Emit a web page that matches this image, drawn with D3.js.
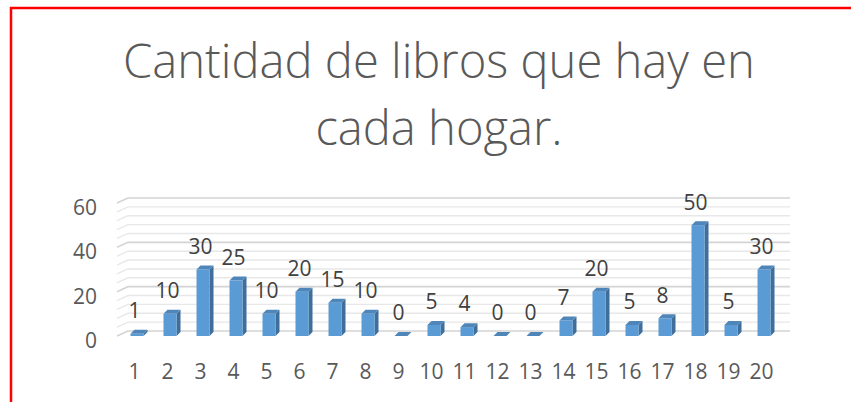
<!DOCTYPE html>
<html>
<head>
<meta charset="utf-8">
<script src="https://cdn.jsdelivr.net/npm/d3@7"></script>
<style>
  html, body { margin: 0; padding: 0; background: #fff; }
  svg { display: block; }
  text { font-variant-ligatures: none; }
</style>
</head>
<body>
<svg id="chart" width="851" height="402"></svg>
<script>
// Data
const categories = d3.range(1, 21).map(String);
const values = [1, 10, 30, 25, 10, 20, 15, 10, 0, 5, 4, 0, 0, 7, 20, 5, 8, 50, 5, 30];
const yTicks = [0, 20, 40, 60];
const minorStep = 4;
const titleLines = ['Cantidad de libros que hay en', 'cada hogar.'];

const svg = d3.select('#chart');
const font = '"Open Sans", Lato, sans-serif';
const labelSize = 21;

// red frame (left and top only visible)
svg.append('path')
  .attr('d', 'M11,402 V8 H851')
  .attr('fill', 'none')
  .attr('stroke', '#ff0000')
  .attr('stroke-width', 2.5);

// Title
const title = svg.append('g');
titleLines.forEach((line, i) => {
  title.append('text')
    .attr('x', 439)
    .attr('y', i === 0 ? 78 : 145)
    .attr('text-anchor', 'middle')
    .attr('font-family', font)
    .attr('font-weight', 300)
    .attr('font-size', 46)
    .attr('fill', '#595959')
    .text(line);
});
// fit first line to the reference width, apply same size to both
const firstLen = title.select('text').node().getComputedTextLength();
title.selectAll('text').attr('font-size', 46 * 632 / firstLen);

// Scales (front plane)
const y = d3.scaleLinear().domain([0, 60]).range([336, 203]);
const x = d3.scaleBand().domain(categories).range([118, 778]);
const depthX = 11, depthY = -5;       // wall depth offset
const barDX = 4, barDY = -4;          // bar depth offset
const barW = 13;

// Gridlines on back wall with side diagonal
const grid = svg.append('g');
d3.range(0, 60 + 0.001, minorStep).forEach(v => {
  const major = yTicks.includes(v);
  const yf = y(v);
  grid.append('path')
    .attr('d', `M117,${yf} L${117 + depthX},${yf + depthY} L790,${yf + depthY}`)
    .attr('fill', 'none')
    .attr('stroke', major ? '#d4d4d4' : '#e8e8e8')
    .attr('stroke-width', major ? 1.6 : 1.4);
});

// Y axis labels
svg.append('g').selectAll('text')
  .data(yTicks)
  .join('text')
  .attr('x', 97)
  .attr('y', d => y(d) + 4.5)
  .attr('dy', '0.35em')
  .attr('text-anchor', 'end')
  .attr('font-family', font)
  .attr('font-size', labelSize)
  .attr('fill', '#595959')
  .text(d => d);

// Bars
svg.append('g').selectAll('g')
  .data(values)
  .join('g')
  .each(function(v, i) {
    const g = d3.select(this);
    const cx = x(categories[i]) + x.bandwidth() / 2 + 2.5;
    const xl = cx - barW / 2, xr = cx + barW / 2;
    const top = y(v), bot = y(0);
    // side face
    g.append('polygon')
      .attr('points', [[xr, top], [xr + barDX, top + barDY], [xr + barDX, bot + barDY], [xr, bot]].join(' '))
      .attr('fill', '#3f6e9b');
    // front face
    g.append('rect')
      .attr('x', xl).attr('y', top)
      .attr('width', barW).attr('height', bot - top)
      .attr('fill', '#5b9bd5');
    // top face
    g.append('polygon')
      .attr('points', [[xl, top], [xl + barDX, top + barDY], [xr + barDX, top + barDY], [xr, top]].join(' '))
      .attr('fill', '#4f86ba');
  });

// Data labels
svg.append('g').selectAll('text')
  .data(values)
  .join('text')
  .attr('x', (d, i) => x(categories[i]) + x.bandwidth() / 2)
  .attr('y', d => y(d) - 23)
  .attr('dy', '0.35em')
  .attr('text-anchor', 'middle')
  .attr('font-family', font)
  .attr('font-size', labelSize)
  .attr('fill', '#404040')
  .text(d => d);

// Category labels
svg.append('g').selectAll('text')
  .data(categories)
  .join('text')
  .attr('x', d => x(d) + x.bandwidth() / 2)
  .attr('y', 372)
  .attr('dy', '0.35em')
  .attr('text-anchor', 'middle')
  .attr('font-family', font)
  .attr('font-size', labelSize)
  .attr('fill', '#595959')
  .text(d => d);
</script>
</body>
</html>
